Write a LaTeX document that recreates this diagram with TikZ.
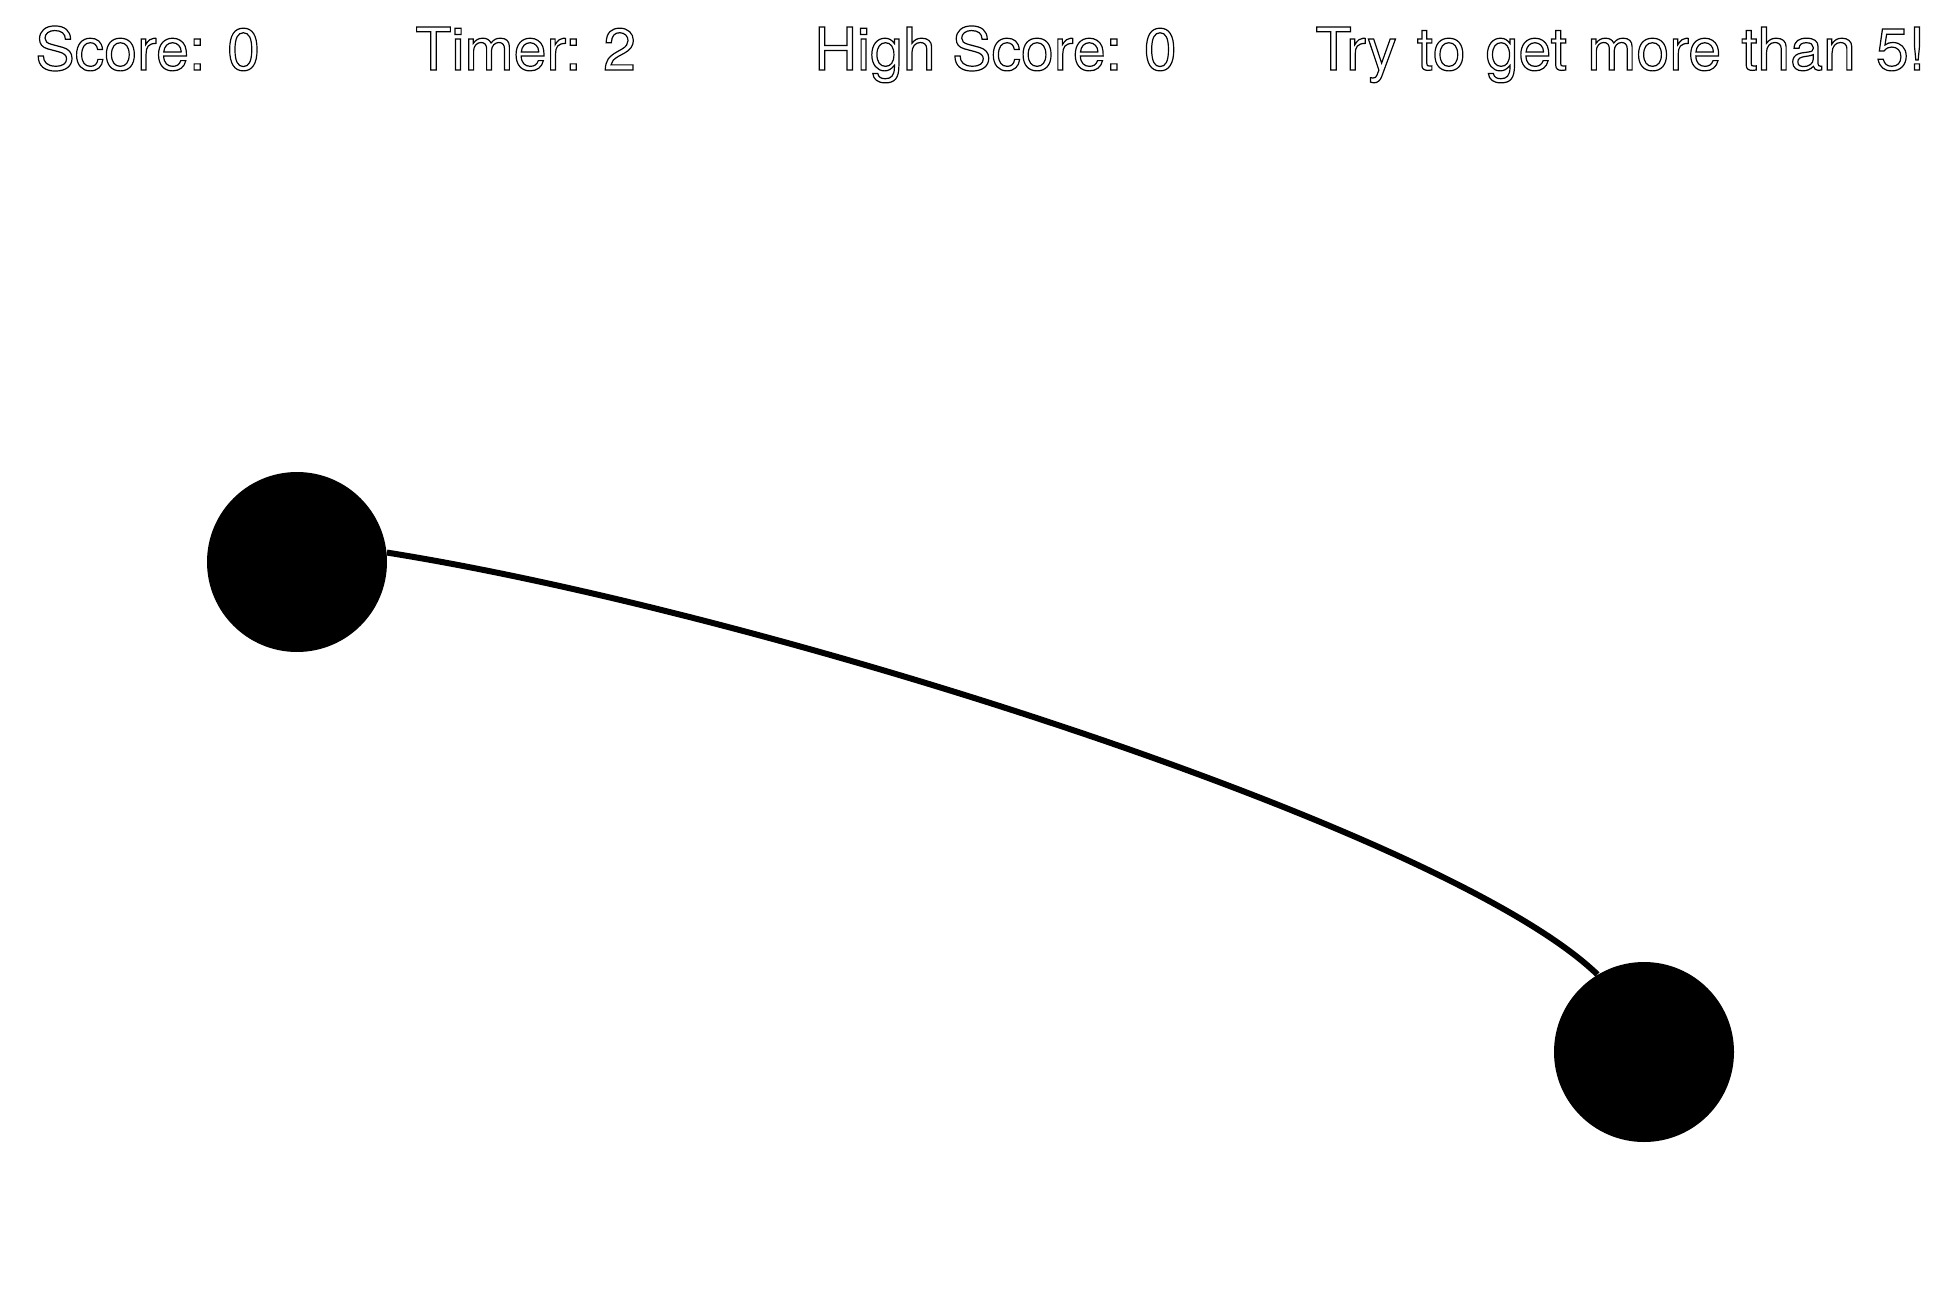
\documentclass[tikz,border=0pt]{standalone}
\usepackage{fontspec}
\setmainfont{TeX Gyre Heros}
\begin{document}
\begin{tikzpicture}[x=0.5pt,y=-0.5pt,
  ball/.style={circle,fill=black,inner sep=0pt,minimum size=90pt},
  rope/.style={line width=3pt,draw=black},
  hud/.style={anchor=base west,inner sep=0pt,font=\fontsize{29.5pt}{29.5pt}\selectfont}]
\fill[white] (0,0) rectangle (1960,1295);
\useasboundingbox (0,0) rectangle (1960,1295);
\newcommand{\outl}[1]{\special{pdf:literal direct 1 Tr 0.6 w}#1\special{pdf:literal direct 0 Tr}}
\node[hud] (score) at (35,70) {\outl{Score: 0}};
\node[hud] (timer) at (415,70) {\outl{Timer: 2}};
\node[hud] (high) at (814,70) {\outl{High Score: 0}};
\node[hud] (goal) at (1315,70) {\spaceskip=0.342em\relax\outl{Try to get more than 5!}};
\node[ball] (a) at (297,562) {};
\node[ball] (b) at (1644,1052) {};
\draw[rope] (a.6.3) .. controls (767,613) and (1448,830) .. (b.121);
\end{tikzpicture}
\end{document}
